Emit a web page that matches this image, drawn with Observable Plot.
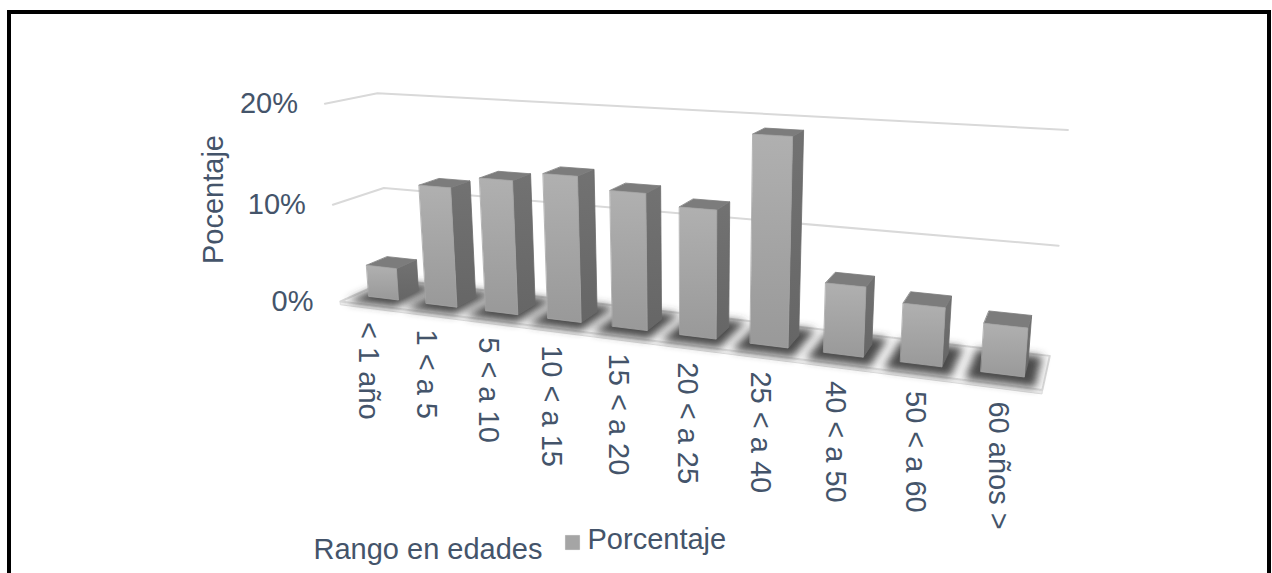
<!DOCTYPE html>
<html>
<head>
<meta charset="utf-8">
<script src="https://cdn.jsdelivr.net/npm/d3@7"></script>
<script src="https://cdn.jsdelivr.net/npm/@observablehq/plot@0.6"></script>
<style>
  body { margin: 0; background: #fff; }
  #wrap { position: relative; width: 1272px; height: 573px; overflow: hidden; }
  #wrap svg { position: absolute; left: 0; top: 0; }
  #frame { position: absolute; left: 7px; top: 10px; width: 1264px; height: 620px;
           border: 4px solid #000; border-bottom: none; box-sizing: border-box; pointer-events: none; }
</style>
</head>
<body>
<div id="wrap"><div id="frame"></div></div>
<script>
// Age ranges and share of each range (%)
const categories = ["< 1 año", "1 < a 5", "5 < a 10", "10 < a 15", "15 < a 20",
                    "20 < a 25", "25 < a 40", "40 < a 50", "50 < a 60", "60 años >"];
const values = [3.3, 12.1, 13.3, 14.2, 13.1, 12.1, 19.1, 6.4, 5.3, 4.3];
const yTicks = [0, 10, 20];
const yTickLabels = ["0%", "10%", "20%"];
const yTitle = "Pocentaje";
const xTitle = "Rango en edades";
const seriesName = "Porcentaje";

// Perspective camera: world X = category position, Y = percent, Z = depth (0 front, 1 back wall).
// Each axis direction converges to its own vanishing point on screen.
const cam = {
  origin: [340, 301],
  vx: [-2550, -63], kx: -0.01954,
  vy: [693, 4790],  ky: -0.00211,
  vz: [1140, -60],  kz: 0.0659
};
function project(X, Y, Z) {
  const a = cam.kx * X, b = cam.ky * Y, c = cam.kz * Z;
  const d = 1 + a + b + c;
  return [
    (cam.origin[0] + a * cam.vx[0] + b * cam.vy[0] + c * cam.vz[0]) / d,
    (cam.origin[1] + a * cam.vx[1] + b * cam.vy[1] + c * cam.vz[1]) / d
  ];
}

// Box geometry in world units: one unit slot per category, columns centred in depth
const floorX = [0, categories.length];
const halfWidth = 0.26;
const barZ = [0.29, 0.71];
const center = i => i + 0.5;

function poly(pts, id) {
  return pts.map(p => { const [x, y] = project(...p); return {x, y, id}; });
}

// Grid lines: left wall then back wall for every tick
const grid = yTicks.filter(t => t > 0).flatMap(t =>
  poly([[floorX[0], t, 0], [floorX[0], t, 1], [floorX[1], t, 1]], t));

// Floor slab (top face and thin front face)
const floorTop = poly([[floorX[0], 0, 0], [floorX[1], 0, 0], [floorX[1], 0, 1], [floorX[0], 0, 1]], "top");
const floorFront = poly([[floorX[0], 0, 0], [floorX[1], 0, 0], [floorX[1], -0.35, 0], [floorX[0], -0.35, 0]], "front");

// Soft shadows around each column base
const shadows = values.flatMap((v, i) => {
  const c = center(i);
  return poly([[c - 0.41, 0, 0.04], [c + 0.41, 0, 0.04], [c + 0.41, 0, 0.95], [c - 0.41, 0, 0.95]], i);
});

// Column faces
const fronts = [], sides = [], tops = [];
values.forEach((v, i) => {
  const x0 = center(i) - halfWidth, x1 = center(i) + halfWidth;
  const [z0, z1] = barZ;
  sides.push(...poly([[x1, 0, z0], [x1, 0, z1], [x1, v, z1], [x1, v, z0]], i));
  tops.push(...poly([[x0, v, z0], [x1, v, z0], [x1, v, z1], [x0, v, z1]], i));
  fronts.push(...poly([[x0, 0, z0], [x1, 0, z0], [x1, v, z0], [x0, v, z0]], i));
});

// Label anchors
const tickText = yTicks.map((t, k) => {
  const [x, y] = project(floorX[0], t, 0);
  return {x: x - 27, y, label: yTickLabels[k]};
});
const catText = categories.map((name, i) => {
  const [x, y] = project(center(i), 0, 0);
  return {x: x - 1, y: y + 17, label: name};
});

const font = "Liberation Sans, Arial, Helvetica, sans-serif";
const ink = "#44546a";
const fs = 29;

const defsMark = () => {
  const defs = document.createElementNS("http://www.w3.org/2000/svg", "defs");
  defs.innerHTML = `
    <linearGradient id="colFront" x1="0" y1="0" x2="0" y2="1">
      <stop offset="0" stop-color="#b0b0b0"/><stop offset="1" stop-color="#999999"/>
    </linearGradient>
    <linearGradient id="colSide" x1="0" y1="0" x2="0" y2="1">
      <stop offset="0" stop-color="#727272"/><stop offset="1" stop-color="#666666"/>
    </linearGradient>
    <filter id="soft" x="-50%" y="-50%" width="200%" height="200%">
      <feGaussianBlur stdDeviation="4.5"/>
    </filter>`;
  return defs;
};

const chart = Plot.plot({
  width: 1272,
  height: 573,
  margin: 0,
  x: {type: "identity", axis: null},
  y: {type: "identity", axis: null},
  style: {background: "transparent", fontFamily: font},
  marks: [
    defsMark,
    Plot.line(grid, {x: "x", y: "y", z: "id", stroke: "#d9d9d9", strokeWidth: 2}),
    Plot.line(floorFront, {x: "x", y: "y", z: "id", curve: "linear-closed", fill: "#ececec", stroke: "#dcdcdc", strokeWidth: 1}),
    Plot.line(floorTop, {x: "x", y: "y", z: "id", curve: "linear-closed", fill: "#f6f6f6", stroke: "#d9d9d9", strokeWidth: 2}),
    Plot.line(shadows, {x: "x", y: "y", z: "id", curve: "linear-closed", fill: "#404040", fillOpacity: 0.95, ariaDescription: "column shadows"}),
    Plot.line(sides, {x: "x", y: "y", z: "id", curve: "linear-closed", fill: "url(#colSide)", stroke: "#6a6a6a", strokeWidth: 0.8}),
    Plot.line(tops, {x: "x", y: "y", z: "id", curve: "linear-closed", fill: "#7c7c7c", stroke: "#7c7c7c", strokeWidth: 0.8}),
    Plot.line(fronts, {x: "x", y: "y", z: "id", curve: "linear-closed", fill: "url(#colFront)", stroke: "#a4a4a4", strokeWidth: 0.8}),
    Plot.text(tickText, {x: "x", y: "y", text: "label", textAnchor: "end", fontSize: fs, fill: ink}),
    Plot.text(catText, {x: "x", y: "y", text: "label", rotate: 90, textAnchor: "start", fontSize: fs, fill: ink}),
    Plot.text([yTitle], {x: 213, y: 199, text: d => d, rotate: -90, fontSize: fs, fill: ink}),
    Plot.text([xTitle], {x: 313, y: 549, text: d => d, textAnchor: "start", fontSize: fs, fill: ink}),
    Plot.dot([seriesName], {x: 572, y: 542, symbol: "square", r: 8, fill: "#a5a5a5", stroke: "#9a9a9a", strokeWidth: 0.5}),
    Plot.text([seriesName], {x: 587, y: 539, text: d => d, textAnchor: "start", fontSize: fs, fill: ink})
  ]
});

const shadowGroup = chart.querySelector('g[aria-description="column shadows"]');
if (shadowGroup) shadowGroup.setAttribute("filter", "url(#soft)");

document.getElementById("wrap").prepend(chart);
</script>
</body>
</html>
